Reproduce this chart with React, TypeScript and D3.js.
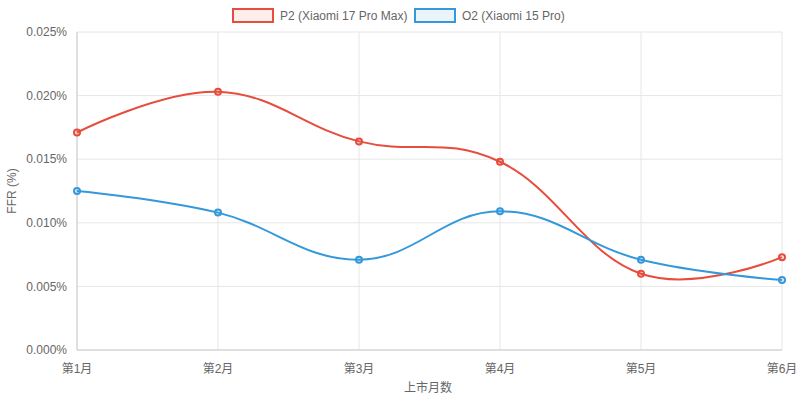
import * as d3 from "d3";

const months = ["第1月", "第2月", "第3月", "第4月", "第5月", "第6月"];
const p2Values = [0.0171, 0.0203, 0.0164, 0.0148, 0.006, 0.0073];
const o2Values = [0.0125, 0.0108, 0.0071, 0.0109, 0.0071, 0.0055];
const yTicks = [0, 0.005, 0.01, 0.015, 0.02, 0.025];
const series = [
  { name: "P2 (Xiaomi 17 Pro Max)", values: p2Values, color: "#e74c3c", fill: "rgba(231,76,60,0.1)" },
  { name: "O2 (Xiaomi 15 Pro)", values: o2Values, color: "#3498db", fill: "rgba(52,152,219,0.1)" },
];

const App = () => {
  const width = 800;
  const height = 401;
  const marginLeft = 77;
  const marginRight = 18;
  const marginTop = 32;
  const marginBottom = 51;
  const font = "Helvetica, Arial, 'Liberation Sans', 'Noto Sans CJK SC', sans-serif";

  const x = d3.scalePoint(months, [marginLeft, width - marginRight]);
  const y = d3.scaleLinear([0, 0.025], [height - marginBottom, marginTop]);
  const line = d3
    .line<number>((d, i) => x(months[i])!, y)
    .curve(d3.curveCardinal.tension(-0.2));

  const legendX = [233, 415];

  return (
    <svg width={width} height={height} style={{ position: "absolute", left: 0, top: 0 }} fontFamily={font}>
      {yTicks.map((t) => (
        <g key={t}>
          <line x1={marginLeft} x2={width - marginRight} y1={y(t)} y2={y(t)} stroke="#e6e6e6" />
          <text x={67} y={y(t)} dy="0.35em" textAnchor="end" fontSize={12} fill="#666">
            {t.toFixed(3)}%
          </text>
        </g>
      ))}
      {months.map((m) => (
        <g key={m}>
          <line x1={x(m)} x2={x(m)} y1={marginTop} y2={height - marginBottom} stroke="#e6e6e6" />
          <text x={x(m)} y={373} textAnchor="middle" fontSize={12} fill="#666">
            {m}
          </text>
        </g>
      ))}
      <line x1={marginLeft} x2={marginLeft} y1={marginTop} y2={height - marginBottom} stroke="#ccc" />
      <line x1={marginLeft} x2={width - marginRight} y1={height - marginBottom} y2={height - marginBottom} stroke="#ccc" />
      <text x={428} y={392} textAnchor="middle" fontSize={12} fill="#666">上市月数</text>
      <text transform={`translate(16,${(marginTop + height - marginBottom) / 2}) rotate(-90)`} textAnchor="middle" fontSize={12} fill="#666">
        FFR (%)
      </text>
      {series.map((s) => (
        <g key={s.name}>
          <path d={line(s.values)!} fill="none" stroke={s.color} strokeWidth={2} />
          {s.values.map((v, i) => (
            <circle key={i} cx={x(months[i])} cy={y(v)} r={3} fill={s.fill} stroke={s.color} strokeWidth={2} />
          ))}
        </g>
      ))}
      {series.map((s, i) => (
        <g key={s.name}>
          <rect x={legendX[i]} y={9} width={40} height={13} fill={s.fill} stroke={s.color} strokeWidth={2} />
          <text x={legendX[i] + 47} y={16} dy="0.35em" fontSize={12} fill="#666">
            {s.name}
          </text>
        </g>
      ))}
    </svg>
  );
};

export default App;
